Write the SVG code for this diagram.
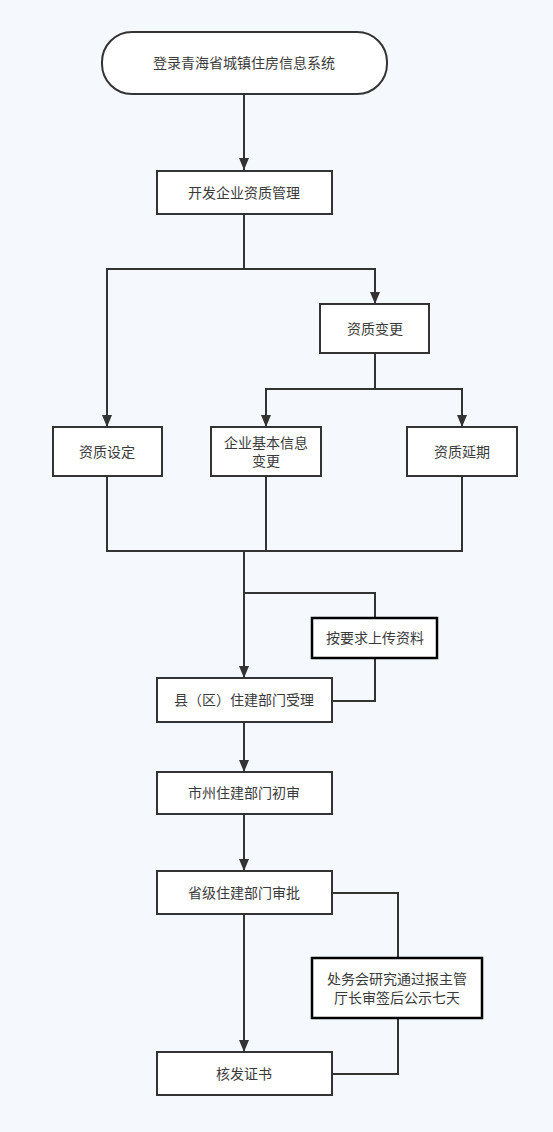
<svg xmlns="http://www.w3.org/2000/svg" width="553" height="1132" viewBox="0 0 553 1132">
<style>
.n{fill:#fff;stroke:#333;stroke-width:2}
.b{fill:#fff;stroke:#000;stroke-width:2.5}
.t{font-family:"Liberation Sans","Noto Sans CJK SC",sans-serif;font-size:14px;fill:#3a3a3a;text-anchor:middle;dominant-baseline:central}
.c{fill:none;stroke:#333;stroke-width:2}
</style>
<defs>
<marker id="a" markerWidth="12" markerHeight="10" refX="12" refY="5" orient="auto" markerUnits="userSpaceOnUse" viewBox="0 0 12 10">
<path d="M0,0 L12,5 L0,10 Z" fill="#333"/>
</marker>
</defs>
<rect width="553" height="1132" fill="#f5f8fd"/>
<g id="connectors">
<path class="c" d="M244,94 V170" marker-end="url(#a)"/>
<path class="c" d="M244,214 V269 H107 V427" marker-end="url(#a)"/>
<path class="c" d="M244,269 H375 V304" marker-end="url(#a)"/>
<path class="c" d="M375,353 V389 H266 V427" marker-end="url(#a)"/>
<path class="c" d="M375,389 H462 V427" marker-end="url(#a)"/>
<path class="c" d="M107,476 V551 H462 V476"/>
<path class="c" d="M266,476 V551"/>
<path class="c" d="M244,551 V678" marker-end="url(#a)"/>
<path class="c" d="M244,593 H375 V618"/>
<path class="c" d="M375,658 V701 H332"/>
<path class="c" d="M244,722 V772" marker-end="url(#a)"/>
<path class="c" d="M244,814 V871" marker-end="url(#a)"/>
<path class="c" d="M244,914 V1052" marker-end="url(#a)"/>
<path class="c" d="M332,893 H398 V958"/>
<path class="c" d="M398,1018 V1074 H332"/>
</g>
<g id="start"><rect class="n" x="102" y="32" width="285" height="62" rx="30"/><text class="t" x="244" y="63">登录青海省城镇住房信息系统</text></g>
<g id="manage"><rect class="n" x="157" y="171" width="175" height="43"/><text class="t" x="244" y="193">开发企业资质管理</text></g>
<g id="change"><rect class="n" x="320" y="304" width="109" height="49"/><text class="t" x="375" y="329">资质变更</text></g>
<g id="setting"><rect class="n" x="53" y="427" width="109" height="49"/><text class="t" x="107" y="452">资质设定</text></g>
<g id="basic"><rect class="n" x="211" y="427" width="110" height="49"/><text class="t" x="266" y="443">企业基本信息</text><text class="t" x="266" y="461">变更</text></g>
<g id="extend"><rect class="n" x="407" y="427" width="110" height="49"/><text class="t" x="462" y="452">资质延期</text></g>
<g id="upload"><rect class="b" x="312" y="618" width="125" height="40"/><text class="t" x="375" y="638">按要求上传资料</text></g>
<g id="county"><rect class="n" x="157" y="678" width="175" height="44"/><text class="t" x="244" y="700">县（区）住建部门受理</text></g>
<g id="city"><rect class="n" x="157" y="772" width="175" height="42"/><text class="t" x="244" y="793">市州住建部门初审</text></g>
<g id="province"><rect class="n" x="157" y="871" width="175" height="43"/><text class="t" x="244" y="893">省级住建部门审批</text></g>
<g id="office"><rect class="b" x="312" y="958" width="170" height="60"/><text class="t" x="397" y="979">处务会研究通过报主管</text><text class="t" x="397" y="998">厅长审签后公示七天</text></g>
<g id="cert"><rect class="n" x="157" y="1052" width="175" height="43"/><text class="t" x="244" y="1074">核发证书</text></g>
</svg>
